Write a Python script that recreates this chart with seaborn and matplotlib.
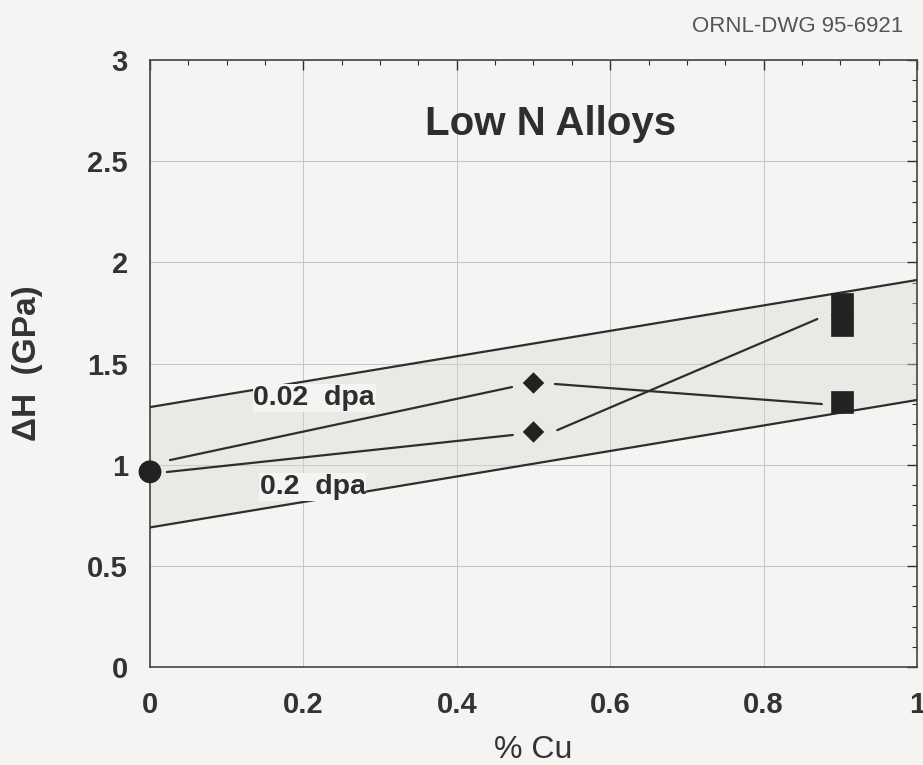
import seaborn as sns
import matplotlib.pyplot as plt

# values
band_x = [0.0, 1.0]
band_upper = [1.285, 1.913]
band_lower = [0.69, 1.32]

line_002_x = [0.026, 0.472]
line_002_y = [1.023, 1.384]
line_02_x = [0.022, 0.473]
line_02_y = [0.964, 1.147]
cross_a_x = [0.528, 0.876]
cross_a_y = [1.399, 1.30]
cross_b_x = [0.531, 0.870]
cross_b_y = [1.171, 1.72]

circle_x = [0.0]
circle_y = [0.965]
diamond_x = [0.5, 0.5]
diamond_y = [1.404, 1.162]
square_x = [0.902, 0.902, 0.902]
square_y = [1.31, 1.795, 1.69]

bg = '#f4f4f2'
ink = '#2e2e2e'

sns.set_theme(style='white')
plt.rcParams['font.family'] = ['Liberation Sans', 'DejaVu Sans']

fig = plt.figure(figsize=(9.23, 7.65), dpi=100, facecolor=bg)
ax = fig.add_axes([0.1625, 0.128, 0.831, 0.7935])
ax.set_facecolor(bg)

# shaded scatter band
ax.fill_between(band_x, band_lower, band_upper, color='#d9d9d6', alpha=0.4, lw=0, zorder=1)

lw = 1.6
for xs, ys in [(band_x, band_upper), (band_x, band_lower),
               (line_002_x, line_002_y), (line_02_x, line_02_y),
               (cross_a_x, cross_a_y), (cross_b_x, cross_b_y)]:
    sns.lineplot(x=xs, y=ys, ax=ax, color=ink, lw=lw, zorder=3)

sns.scatterplot(x=circle_x, y=circle_y, ax=ax, marker='o', s=270, color='#222222',
                edgecolor='none', zorder=5, clip_on=False)
sns.scatterplot(x=diamond_x, y=diamond_y, ax=ax, marker='D', s=120, color='#222222',
                edgecolor='none', zorder=5)
sns.scatterplot(x=square_x, y=square_y, ax=ax, marker='s', s=270, color='#222222',
                edgecolor='#222222', linewidth=0.5, zorder=5)

# labels on the lines (the box breaks the band line like the original)
box = dict(facecolor=bg, edgecolor='none', pad=0.5)
ax.text(0.214, 1.33, '0.02  dpa', ha='center', va='center', fontsize=20.5,
        fontweight='bold', color=ink, bbox=box, zorder=4)
ax.text(0.2125, 0.89, '0.2  dpa', ha='center', va='center', fontsize=20.5,
        fontweight='bold', color=ink, bbox=box, zorder=4)
ax.text(0.522, 2.63, 'Low N Alloys', ha='center', va='baseline', fontsize=29,
        fontweight='bold', color=ink)

fig.text(0.979, 0.966, 'ORNL-DWG 95-6921', ha='right', va='center', fontsize=16,
         color='#555555')

ax.set_xlim(0, 1)
ax.set_ylim(0, 3)
ax.set_xticks([0, 0.2, 0.4, 0.6, 0.8, 1])
ax.set_xticklabels(['0', '0.2', '0.4', '0.6', '0.8', '1'])
ax.set_yticks([0, 0.5, 1, 1.5, 2, 2.5, 3])
ax.set_yticklabels(['0', '0.5', '1', '1.5', '2', '2.5', '3'])
ax.set_xticks([i * 0.05 for i in range(21)], minor=True)
ax.set_yticks([i * 0.1 for i in range(31)], minor=True)
ax.grid(True, which='major', color='#c4c4c4', lw=0.7)
ax.tick_params(which='both', direction='in', top=True, right=True, colors=ink)
ax.tick_params(which='major', length=7, width=1)
ax.tick_params(which='minor', length=3.5, width=0.8)
ax.tick_params(axis='x', which='major', pad=17, labelsize=21)
ax.tick_params(axis='y', which='major', pad=16, labelsize=21)
for lab in ax.get_xticklabels() + ax.get_yticklabels():
    lab.set_fontweight('bold')
    lab.set_color('#333333')
for sp in ax.spines.values():
    sp.set_color('#444444')
    sp.set_linewidth(1.2)

ax.set_xlabel('% Cu', fontsize=23, color='#333333')
ax.set_ylabel('ΔH  (GPa)', fontsize=24, fontweight='bold', color='#333333')
ax.xaxis.set_label_coords(0.5, -0.112)
ax.yaxis.set_label_coords(-0.14, 0.5)

fig.savefig('out.png', dpi=100, facecolor=bg)
